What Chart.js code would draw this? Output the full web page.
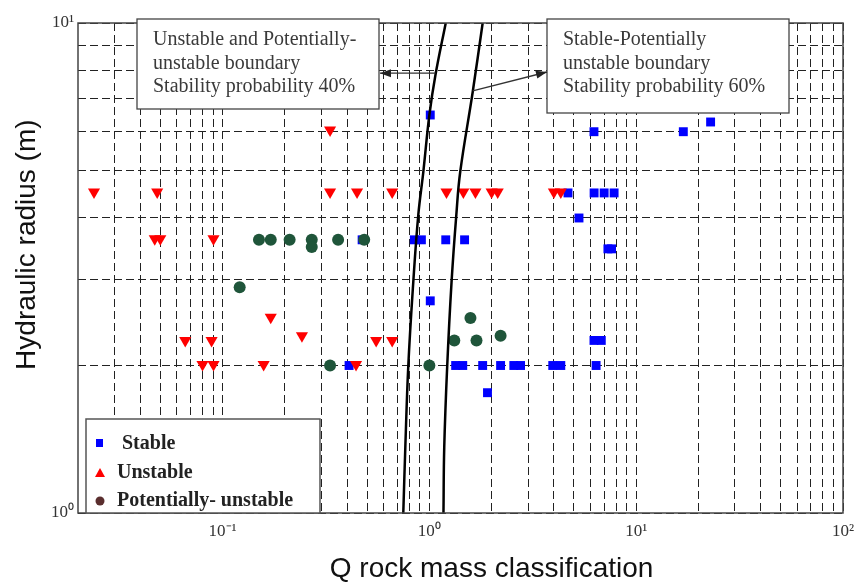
<!DOCTYPE html>
<html>
<head>
<meta charset="utf-8">
<script src="https://cdn.jsdelivr.net/npm/chart.js@4.4.0/dist/chart.umd.min.js"></script>
<style>
  html, body { margin: 0; padding: 0; background: #fff; }
  canvas { display: block; }
</style>
</head>
<body>
<canvas id="grafico" width="857" height="586"></canvas>
<script>
// Stable cases (Q, hydraulic radius)
const stableQ = [1.01, 6.25, 16.9, 22.9, 4.68, 6.26, 7.0, 7.82, 5.29, 7.3, 7.6,
    0.473, 0.846, 0.915, 1.20, 1.48, 1.01, 0.409, 1.34, 1.45, 1.81, 2.21, 2.56, 2.76,
    3.95, 4.32, 6.40, 6.25, 6.78, 1.91];
const stableR = [6.49, 6.0, 6.0, 6.28, 4.5, 4.5, 4.5, 4.5, 4.0, 3.46, 3.46,
    3.61, 3.61, 3.61, 3.61, 3.61, 2.71, 2.0, 2.0, 2.0, 2.0, 2.0, 2.0, 2.0,
    2.0, 2.0, 2.0, 2.25, 2.25, 1.76];

// Unstable cases
const unstableQ = [0.0239, 0.0483, 0.331, 0.447, 0.661, 1.21, 1.46, 1.67, 2.0, 2.14, 4.0, 4.32,
    0.047, 0.050, 0.0904, 0.331,
    0.066, 0.0885, 0.171, 0.242, 0.080, 0.0904, 0.158, 0.442, 0.553, 0.661];
const unstableR = [4.52, 4.52, 4.52, 4.52, 4.52, 4.52, 4.52, 4.52, 4.52, 4.52, 4.52, 4.52,
    3.63, 3.63, 3.63, 6.05,
    2.25, 2.25, 2.51, 2.30, 2.01, 2.01, 2.01, 2.01, 2.25, 2.25];

// Potentially-unstable cases
const potentialQ = [0.150, 0.171, 0.211, 0.270, 0.270, 0.362, 0.484, 0.121, 0.331, 1.0, 1.58, 1.32, 1.69, 2.21];
const potentialR = [3.61, 3.61, 3.61, 3.61, 3.49, 3.61, 3.61, 2.89, 2.0, 2.0, 2.50, 2.25, 2.25, 2.30];

// Boundary curves
const bound40Q = [0.748, 0.765, 0.791, 0.836, 0.884, 0.935, 1.0, 1.07, 1.20];
const bound40R = [1.0, 1.36, 2.0, 2.96, 4.06, 4.97, 6.49, 7.83, 10];
const bound60Q = [1.17, 1.18, 1.22, 1.28, 1.35, 1.41, 1.62, 1.81];
const bound60R = [1.0, 1.36, 2.0, 2.96, 4.06, 4.97, 7.23, 10];

// Ticks
const xTicks = [0.03, 0.04, 0.05, 0.06, 0.07, 0.08, 0.09, 0.1, 0.2, 0.3, 0.4, 0.5, 0.6, 0.7, 0.8, 0.9,
    1, 2, 3, 4, 5, 6, 7, 8, 9, 10, 20, 30, 40, 50, 60, 70, 80, 90, 100];
const yTicks = [1, 2, 3, 4, 5, 6, 7, 8, 9, 10];
const xTickLabels = { 0.1: '10⁻¹', 1: '10⁰', 10: '10¹', 100: '10²' };
const yTickLabels = { 1: '10⁰', 10: '10¹' };

const pts = (qs, rs) => qs.map((q, i) => ({ x: q, y: rs[i] }));

const serif = 'Liberation Serif';

// boxes, arrows, legend, frame
const extras = {
    id: 'extras',
    afterDraw(chart) {
        const { ctx, chartArea: a, scales: { x, y } } = chart;
        ctx.save();

        // frame
        ctx.setLineDash([]);
        ctx.strokeStyle = '#444';
        ctx.lineWidth = 1.5;
        ctx.strokeRect(a.left, a.top, a.right - a.left, a.bottom - a.top);

        function box(l, t, w, h, lines, tx) {
            ctx.fillStyle = '#fff';
            ctx.fillRect(l, t, w, h);
            ctx.strokeStyle = '#444';
            ctx.lineWidth = 1.3;
            ctx.strokeRect(l, t, w, h);
            ctx.fillStyle = '#3a3a3a';
            ctx.font = '20px "' + serif + '"';
            ctx.textBaseline = 'middle';
            ctx.textAlign = 'left';
            lines.forEach((s, i) => ctx.fillText(s, tx, t + 21 + i * 23.5));
        }
        function arrow(x0, y0, x1, y1) {
            ctx.strokeStyle = '#333';
            ctx.fillStyle = '#222';
            ctx.lineWidth = 1.3;
            ctx.beginPath();
            ctx.moveTo(x0, y0);
            ctx.lineTo(x1, y1);
            ctx.stroke();
            const ang = Math.atan2(y1 - y0, x1 - x0);
            const L = 11, W = 4;
            ctx.beginPath();
            ctx.moveTo(x1, y1);
            ctx.lineTo(x1 - L * Math.cos(ang) + W * Math.sin(ang), y1 - L * Math.sin(ang) - W * Math.cos(ang));
            ctx.lineTo(x1 - L * Math.cos(ang) - W * Math.sin(ang), y1 - L * Math.sin(ang) + W * Math.cos(ang));
            ctx.closePath();
            ctx.fill();
        }

        box(137, 19, 242, 90, ['Unstable and Potentially-', 'unstable boundary', 'Stability probability 40%'], 153);
        box(547, 19, 242, 94, ['Stable-Potentially', 'unstable boundary', 'Stability probability 60%'], 563);

        const ay = y.getPixelForValue(7.9);
        arrow(x.getPixelForValue(1.07), ay, 380, ay);
        arrow(x.getPixelForValue(1.62), y.getPixelForValue(7.27), 547, 72);

        // legend
        ctx.fillStyle = '#fff';
        ctx.fillRect(86, 419, 234, 94);
        ctx.strokeStyle = '#555';
        ctx.lineWidth = 1.5;
        ctx.strokeRect(86, 419, 234, 94);

        ctx.fillStyle = '#0000ff';
        ctx.fillRect(96, 439, 7, 8);
        ctx.fillStyle = '#ff0000';
        ctx.beginPath();
        ctx.moveTo(100, 468); ctx.lineTo(105, 477); ctx.lineTo(95, 477); ctx.closePath();
        ctx.fill();
        ctx.fillStyle = '#5a2e2e';
        ctx.beginPath();
        ctx.arc(100, 501, 4.5, 0, Math.PI * 2);
        ctx.fill();

        ctx.fillStyle = '#222';
        ctx.font = 'bold 20px "' + serif + '"';
        ctx.textBaseline = 'middle';
        ctx.fillText('Stable', 122, 444);
        ctx.fillText('Unstable', 117, 473);
        ctx.fillText('Potentially- unstable', 117, 501);

        ctx.restore();
    }
};

const gridOpts = { color: '#222', lineWidth: 1, drawTicks: false };

new Chart(document.getElementById('grafico'), {
    type: 'scatter',
    data: {
        datasets: [
            {
                label: 'Boundary 40%',
                data: pts(bound40Q, bound40R),
                showLine: true, pointRadius: 0, borderColor: '#000', borderWidth: 2.5,
                tension: 0.4, order: 0
            },
            {
                label: 'Boundary 60%',
                data: pts(bound60Q, bound60R),
                showLine: true, pointRadius: 0, borderColor: '#000', borderWidth: 2.5,
                tension: 0.4, order: 0
            },
            {
                label: 'Potentially- unstable',
                data: pts(potentialQ, potentialR),
                pointStyle: 'circle', pointRadius: 6, borderWidth: 0,
                backgroundColor: '#1f553a', order: 1
            },
            {
                label: 'Unstable',
                data: pts(unstableQ, unstableR),
                pointStyle: 'triangle', rotation: 180, pointRadius: 7, borderWidth: 0,
                backgroundColor: '#ff0000', order: 2
            },
            {
                label: 'Stable',
                data: pts(stableQ, stableR),
                pointStyle: 'rect', pointRadius: 6.3, borderWidth: 0,
                backgroundColor: '#0000ff', order: 3
            }
        ]
    },
    options: {
        responsive: false,
        animation: false,
        events: [],
        layout: { padding: { left: 0, top: 23, right: 14, bottom: 0 } },
        plugins: { legend: { display: false }, tooltip: { enabled: false } },
        scales: {
            x: {
                type: 'logarithmic', min: 0.02, max: 100,
                afterBuildTicks: s => { s.ticks = xTicks.map(v => ({ value: v })); },
                afterFit: s => { s.height = 73; s.paddingLeft = 0; s.paddingRight = 0; },
                ticks: {
                    autoSkip: false, maxRotation: 0, padding: 8, color: '#333',
                    font: { family: serif, size: 17 },
                    callback: v => xTickLabels[v] || ''
                },
                grid: gridOpts,
                border: { display: false, dash: [8, 4] },
                title: {
                    display: true, text: '        Q rock mass classification', color: '#111',
                    font: { family: 'Liberation Sans', size: 28 }, padding: { top: 0, bottom: 0 }
                }
            },
            y: {
                type: 'logarithmic', min: 1, max: 10,
                afterBuildTicks: s => { s.ticks = yTicks.map(v => ({ value: v })); },
                afterFit: s => { s.width = 78; s.paddingTop = 0; s.paddingBottom = 0; },
                ticks: {
                    autoSkip: false, padding: 4, color: '#333',
                    font: { family: serif, size: 17 },
                    callback: v => yTickLabels[v] || ''
                },
                grid: gridOpts,
                border: { display: false, dash: [8, 4] },
                title: {
                    display: true, text: '      Hydraulic radius (m)', color: '#111',
                    font: { family: 'Liberation Sans', size: 28 }, padding: { top: 10, bottom: 0 }
                }
            }
        }
    },
    plugins: [extras]
});
</script>
</body>
</html>
